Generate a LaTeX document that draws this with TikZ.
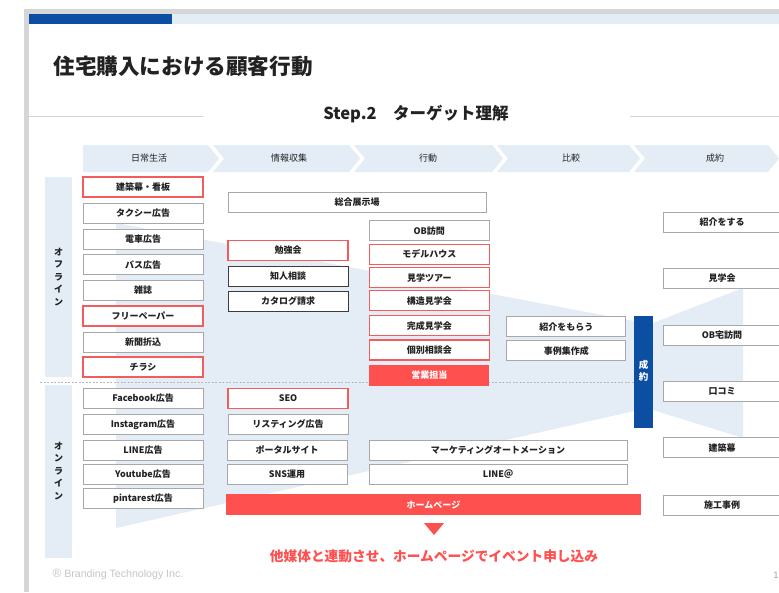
\documentclass[tikz,border=0pt]{standalone}
\usepackage{fontspec}
\setmainfont{Noto Sans CJK JP}
\newfontfamily\footfont{Liberation Sans}
\usepackage{xcolor}
\usepackage{tikz}

\definecolor{barblue}{HTML}{0B4EA2}
\definecolor{paleblue}{HTML}{E4ECF6}
\definecolor{hotred}{HTML}{FF5050}
\definecolor{edgered}{HTML}{F25C5C}
\definecolor{edgegray}{HTML}{A8A8A8}
\definecolor{edgedark}{HTML}{3C3C3C}
\definecolor{framegray}{HTML}{D6D6D6}
\definecolor{inkgray}{HTML}{222222}

\newcommand{\boxfont}{\bfseries\fontsize{9}{10}\selectfont}

\begin{document}
\begin{tikzpicture}[x=1pt, y=-1pt,
  cell/.style={draw=edgegray, fill=white, line width=0.9pt, minimum width=120, minimum height=20, inner sep=0pt, text=inkgray, font=\boxfont},
  redcell/.style={cell, draw=edgered, line width=1.1pt},
  darkcell/.style={cell, draw=edgedark},
  hotcell/.style={cell, draw=none, fill=hotred, text=white},
  headlabel/.style={text=inkgray, font=\fontsize{9}{10}\selectfont},
  sidelabel/.style={align=center, text=inkgray, font=\bfseries\fontsize{9}{12.5}\selectfont}]
\useasboundingbox (0,0) rectangle (779,592);

% slide frame
\fill[framegray] (24,9) rectangle (779,592);
\fill[white] (29,14) rectangle (779,592);
\fill[barblue] (29,14) rectangle (172,23.5);
\fill[paleblue] (172,14) rectangle (779,23.5);

% title
\node[anchor=west, text=inkgray, font=\bfseries\fontsize{21.6}{22}\selectfont] (title) at (50,66) {住宅購入における顧客行動};
\draw[framegray, line width=1pt] (29,116) -- (203,116);
\draw[framegray, line width=1pt] (630,116) -- (779,116);
\node[text=inkgray, font=\bfseries\fontsize{16.5}{17}\selectfont] (step) at (416,114) {Step.2　ターゲット理解};

% phases
\fill[paleblue] (83,145) -- (208,145) -- (219,158.5) -- (208,172) -- (83,172) -- cycle;
\fill[paleblue] (213,145) -- (349,145) -- (360,158.5) -- (349,172) -- (213,172) -- (224,158.5) -- cycle;
\fill[paleblue] (354,145) -- (492,145) -- (503,158.5) -- (492,172) -- (354,172) -- (365,158.5) -- cycle;
\fill[paleblue] (497,145) -- (629,145) -- (640,158.5) -- (629,172) -- (497,172) -- (508,158.5) -- cycle;
\fill[paleblue] (634,145) -- (768,145) -- (779,158.5) -- (768,172) -- (634,172) -- (645,158.5) -- cycle;
\node[headlabel] (daily) at (149,158.5) {日常生活};
\node[headlabel] (gather) at (289,158.5) {情報収集};
\node[headlabel] (act) at (428,158.5) {行動};
\node[headlabel] (compare) at (571,158.5) {比較};
\node[headlabel] (deal) at (715,158.5) {成約};

% funnel
\fill[paleblue] (116,223) -- (634,321) -- (653,323) -- (743,288) -- (743,438) -- (653,410) -- (634,411) -- (116,528) -- cycle;

% offline / online
\fill[paleblue] (45,177) rectangle (72,377);
\fill[paleblue] (45,385) rectangle (72,558);
\node[sidelabel] (offline) at (58.5,277) {オ\\フ\\ラ\\イ\\ン};
\node[sidelabel] (online) at (58.5,471) {オ\\ン\\ラ\\イ\\ン};
\draw[gray!55, line width=0.5pt, dash pattern=on 2pt off 1.5pt] (40,382) -- (634,382);

% daily life
\node[redcell] (signboard) at (143,187) {建築幕・看板};
\node[cell] (taxi) at (143,213) {タクシー広告};
\node[cell] (train) at (143,239) {電車広告};
\node[cell] (bus) at (143,264.7) {バス広告};
\node[cell] (magazine) at (143,290.3) {雑誌};
\node[redcell] (freepaper) at (143,316) {フリーペーパー};
\node[cell] (insert) at (143,342) {新聞折込};
\node[redcell] (flyer) at (143,367) {チラシ};
\node[cell] (facebook) at (143,398.3) {Facebook広告};
\node[cell] (instagram) at (143,424.3) {Instagram広告};
\node[cell] (lineads) at (143,450.2) {LINE広告};
\node[cell] (youtube) at (143,474.5) {Youtube広告};
\node[cell] (pinterest) at (143,498.7) {pintarest広告};

% information
\node[cell, minimum width=258] (showpark) at (357,202.5) {総合展示場};
\node[redcell] (seminar) at (288,250.5) {勉強会};
\node[darkcell] (friend) at (288,276.3) {知人相談};
\node[darkcell] (catalog) at (288,301.3) {カタログ請求};
\node[redcell] (seo) at (288,398.2) {SEO};
\node[cell] (listing) at (288,424.2) {リスティング広告};
\node[cell] (portal) at (287,450.2) {ポータルサイト};
\node[cell] (sns) at (287,474.5) {SNS運用};
\node[hotcell, minimum width=415, minimum height=20.7] (homepage) at (433.5,504.7) {ホームページ};

% action
\node[cell] (obvisit) at (429.3,230.7) {OB訪問};
\node[redcell] (modelhouse) at (429.3,254.3) {モデルハウス};
\node[redcell] (tour) at (429.3,277.7) {見学ツアー};
\node[redcell] (structure) at (429.3,300.7) {構造見学会};
\node[redcell] (openhouse) at (429.3,325.7) {完成見学会};
\node[redcell] (consult) at (429.3,350) {個別相談会};
\node[hotcell, minimum height=20.7] (sales) at (429.3,375.3) {営業担当};
\node[cell, minimum width=258] (automation) at (498,450.2) {マーケティングオートメーション};
\node[cell, minimum width=258] (lineat) at (498,474.5) {LINE＠};

% compare
\node[cell, minimum width=119] (getref) at (566.3,326.7) {紹介をもらう};
\node[cell, minimum width=119] (casebook) at (566.3,350.7) {事例集作成};

% contract
\node[fill=barblue, minimum width=19, minimum height=112.5, inner sep=0pt] (contract) at (643.5,372) {};
\node[align=center, text=white, font=\bfseries\fontsize{9.5}{12}\selectfont] (contractlabel) at (643.5,371) {成\\約};
\node[cell, minimum width=118] (giveref) at (722,222) {紹介をする};
\node[cell, minimum width=118] (visit) at (722,278.3) {見学会};
\node[cell, minimum width=118] (obhome) at (722,335) {OB宅訪問};
\node[cell, minimum width=118] (review) at (722,391.5) {口コミ};
\node[cell, minimum width=118] (banner) at (722,447.8) {建築幕};
\node[cell, minimum width=118] (works) at (722,505.5) {施工事例};

% call to action
\fill[hotred] (424,523) -- (444,523) -- (434,535) -- cycle;
\node[text=hotred, font=\bfseries\fontsize{13.7}{14}\selectfont] (cta) at (434,556) {他媒体と連動させ、ホームページでイベント申し込み};

% footer
\node[anchor=west, text=gray!45, font=\footfont\fontsize{10.6}{11}\selectfont] (copyright) at (49,574) {\fontsize{12}{12}\selectfont®\fontsize{10.6}{11}\selectfont{} Branding Technology Inc.};
\node[text=gray!70, font=\footfont\fontsize{9.5}{10}\selectfont] (page) at (776,575) {1};
\end{tikzpicture}
\end{document}
